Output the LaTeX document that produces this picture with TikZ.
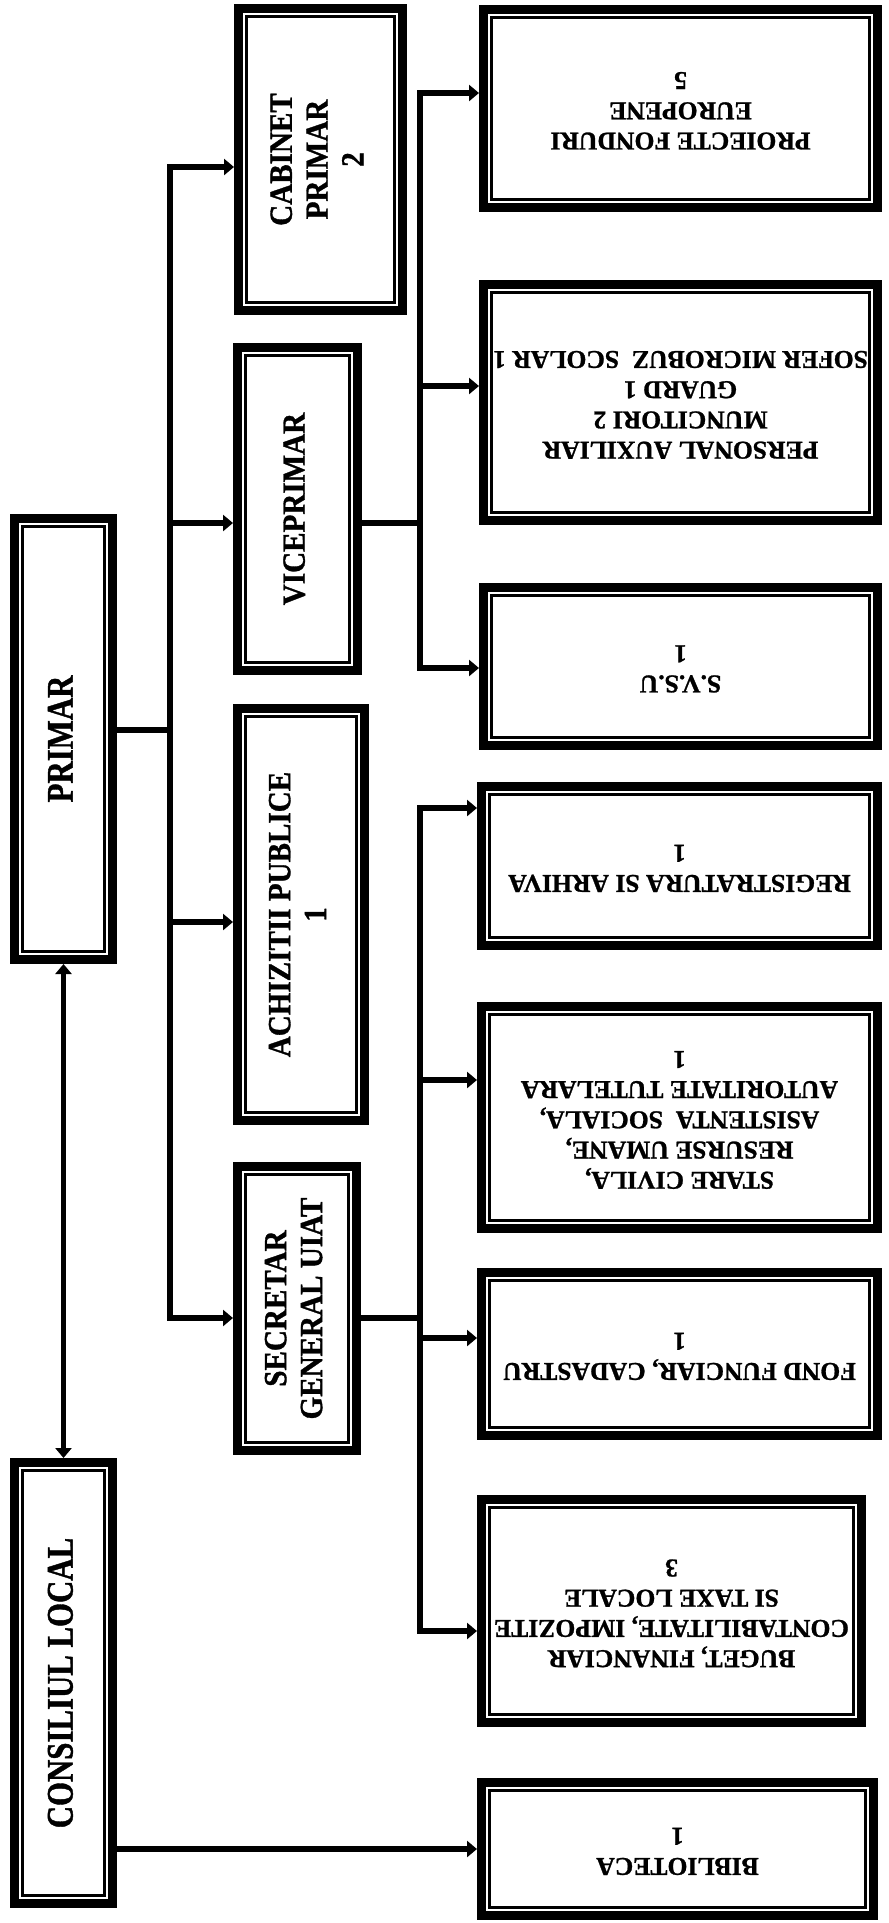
\documentclass[tikz,border=0pt]{standalone}
\usepackage{fontspec}
\setmainfont{Liberation Serif}[BoldFeatures={FakeBold=1}]
\newfontfamily\midserif{Liberation Serif}[FakeStretch=0.9, BoldFeatures={FakeBold=1}]
\newfontfamily\narrowserif{Liberation Serif}[FakeStretch=0.82, BoldFeatures={FakeBold=1}]
\usetikzlibrary{arrows.meta}

\newcommand{\uptext}[1]{\rotatebox{90}{\begin{tabular}{@{}c@{}}#1\end{tabular}}}
\newcommand{\downtext}[1]{\rotatebox{180}{\begin{tabular}{@{}c@{}}#1\end{tabular}}}

\tikzset{
  box/.style={draw, line width=0.9mm, inner sep=0pt,
    path picture={\draw[line width=0.25mm]
      ([shift={(0.8mm,0.8mm)}]path picture bounding box.south west) rectangle
      ([shift={(-0.8mm,-0.8mm)}]path picture bounding box.north east);}},
  bigbox/.style={box, font=\narrowserif\bfseries\fontsize{10.7}{13}\selectfont},
  midbox/.style={box, font=\midserif\bfseries\fontsize{9.2}{10.2}\selectfont},
  smallbox/.style={box, font=\bfseries\fontsize{7.3}{8.6}\selectfont},
  conn/.style={line width=0.55mm, line cap=rect},
  arr/.style={conn, -{Triangle[length=1mm,width=1.6mm]}},
  twoway/.style={conn, {Triangle[length=1mm,width=1.6mm]}-{Triangle[length=1mm,width=1.6mm]}},
}

\begin{document}
\begin{tikzpicture}[x=0.1mm, y=-0.1mm]
    \useasboundingbox (0,0) rectangle (889,1923);
    % left column
    \node[bigbox, minimum width=9.8mm, minimum height=44.1mm] (primar) at (63.5,739) {\uptext{PRIMAR}};
    \node[bigbox, minimum width=9.8mm, minimum height=44.1mm] (consiliu) at (63.5,1683) {\uptext{CONSILIUL LOCAL}};
    % middle column
    \node[midbox, minimum width=16.4mm, minimum height=30.2mm] (cabinet) at (320.5,159.5) {\uptext{CABINET\\PRIMAR\\2}};
    \node[midbox, minimum width=12.0mm, minimum height=32.3mm] (vice) at (297.5,509) {\uptext{VICEPRIMAR}};
    \node[midbox, minimum width=12.7mm, minimum height=41.2mm] (achiz) at (301,914.5) {\uptext{ACHIZITII PUBLICE\\1}};
    \node[midbox, minimum width=11.9mm, minimum height=28.4mm] (secretar) at (297,1308.5) {\uptext{SECRETAR\\GENERAL UIAT}};
    % right column
    \node[smallbox, minimum width=39.4mm, minimum height=19.8mm] (proiecte) at (680.5,108.5) {\downtext{PROIECTE FONDURI\\EUROPENE\\5}};
    \node[smallbox, minimum width=39.4mm, minimum height=23.6mm] (personal) at (680.5,402.5) {\downtext{PERSONAL AUXILIAR\\MUNCITORI 2\\GUARD 1\\SOFER MICROBUZ\ \ SCOLAR 1}};
    \node[smallbox, minimum width=39.4mm, minimum height=15.8mm] (svsu) at (680.5,666.5) {\downtext{S.V.S.U\\1}};
    \node[smallbox, minimum width=39.6mm, minimum height=15.9mm] (registru) at (679.5,866) {\downtext{REGISTRATURA SI ARHIVA\\1}};
    \node[smallbox, minimum width=39.6mm, minimum height=22.2mm] (stare) at (679.5,1117.5) {\downtext{STARE CIVILA,\\RESURSE UMANE,\\ASISTENTA\ \ SOCIALA,\\AUTORITATE TUTELARA\\1}};
    \node[smallbox, minimum width=39.6mm, minimum height=16.3mm] (fond) at (679.5,1354) {\downtext{FOND FUNCIAR, CADASTRU\\1}};
    \node[smallbox, minimum width=38.0mm, minimum height=22.3mm] (buget) at (671.5,1611) {\downtext{BUGET, FINANCIAR\\CONTABILITATE, IMPOZITE\\SI TAXE LOCALE\\3}};
    \node[smallbox, minimum width=39.2mm, minimum height=13.3mm] (biblio) at (677.5,1849) {\downtext{BIBLIOTECA\\1}};

    % trunk under the mayor
    \coordinate (pj) at (170,730);
    \coordinate (a1) at (170,167);
    \coordinate (a2) at (170,523);
    \coordinate (a3) at (170,922);
    \coordinate (a4) at (170,1318);
    \draw[conn] (primar.east |- pj) -- (pj);
    \draw[conn] (a1) -- (a4);
    \draw[arr] (a1) -- (a1 -| cabinet.west);
    \draw[arr] (a2) -- (a2 -| vice.west);
    \draw[arr] (a3) -- (a3 -| achiz.west);
    \draw[arr] (a4) -- (a4 -| secretar.west);

    % trunk under the deputy
    \coordinate (vj) at (420,523);
    \coordinate (b1) at (420,93);
    \coordinate (b2) at (420,386);
    \coordinate (b3) at (420,668);
    \draw[conn] (vice.east |- vj) -- (vj);
    \draw[conn] (b1) -- (b3);
    \draw[arr] (b1) -- (b1 -| proiecte.west);
    \draw[arr] (b2) -- (b2 -| personal.west);
    \draw[arr] (b3) -- (b3 -| svsu.west);

    % trunk under the secretary
    \coordinate (sj) at (420,1318);
    \coordinate (s1) at (420,808);
    \coordinate (s2) at (420,1080);
    \coordinate (s3) at (420,1338);
    \coordinate (s4) at (420,1631);
    \draw[conn] (secretar.east |- sj) -- (sj);
    \draw[conn] (s1) -- (s4);
    \draw[arr] (s1) -- (s1 -| registru.west);
    \draw[arr] (s2) -- (s2 -| stare.west);
    \draw[arr] (s3) -- (s3 -| fond.west);
    \draw[arr] (s4) -- (s4 -| buget.west);

    % council links
    \draw[arr] (consiliu.east |- biblio.west) -- (biblio.west);
    \draw[twoway] (primar.south) -- (consiliu.north);
\end{tikzpicture}
\end{document}
